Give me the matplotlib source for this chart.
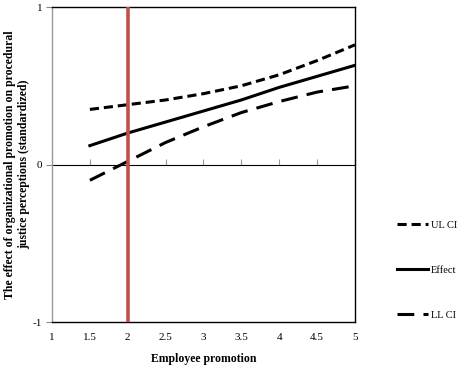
import matplotlib.pyplot as plt

promotion = [1.5, 2.0, 2.5, 3.0, 3.5, 4.0, 4.5, 5.0]
effect = [0.12, 0.20, 0.27, 0.34, 0.41, 0.49, 0.56, 0.63]
ul_ci = [0.35, 0.38, 0.41, 0.45, 0.50, 0.57, 0.66, 0.76]
ll_ci = [-0.10, 0.02, 0.14, 0.24, 0.33, 0.40, 0.46, 0.50]
xticks = [1, 1.5, 2, 2.5, 3, 3.5, 4, 4.5, 5]
xticklabels = ["1", "1.5", "2", "2.5", "3", "3.5", "4", "4.5", "5"]
yticks = [-1, 0, 1]
marker_x = 2.0

plt.rcParams["font.family"] = ["Liberation Serif", "DejaVu Serif"]
plt.rcParams["axes.unicode_minus"] = False

fig = plt.figure(figsize=(4.59, 3.71), dpi=100)
ax = fig.add_axes([0.1133, 0.132, 0.66, 0.849])

l_ul, = ax.plot(promotion, ul_ci, color="black", lw=2.2, dashes=(3.0, 1.6), label="UL CI")
l_eff, = ax.plot(promotion, effect, color="black", lw=2.2, label="Effect")
l_ll, = ax.plot(promotion, ll_ci, color="black", lw=2.2, dashes=(5.5, 3.0), label="LL CI")
ax.axvline(marker_x, color="#C0504D", lw=2.6, zorder=5)

ax.set_xlim(1, 5)
ax.set_ylim(-1, 1)
ax.set_xticks(xticks)
ax.set_xticklabels(xticklabels)
ax.set_yticks(yticks)
ax.tick_params(axis="x", length=0, pad=8, labelsize=8)
ax.tick_params(axis="y", length=4, color="#888888", labelsize=8, pad=3)

for side in ("top", "right", "bottom"):
    ax.spines[side].set_color("black")
    ax.spines[side].set_linewidth(1.0)
ax.spines["left"].set_color("#999999")
ax.spines["left"].set_linewidth(1.0)

# horizontal axis crossing at zero, with tick marks below it
zero_axis = ax.secondary_xaxis(0.5)
zero_axis.set_xticks(xticks)
zero_axis.set_xticklabels([])
zero_axis.tick_params(length=4, color="#999999", direction="out")
zero_axis.spines["bottom"].set_color("#999999")
zero_axis.spines["bottom"].set_linewidth(1.0)

ax.set_xlabel("Employee promotion", fontweight="bold", fontsize=8.5, labelpad=8)
ax.set_ylabel("The effect of organizational promotion on procedural\njustice perceptions (standardized)",
              fontweight="bold", fontsize=8.5, linespacing=1.25)
ax.yaxis.set_label_coords(-0.072, 0.5)

fig.legend(handles=[l_ul, l_eff, l_ll], loc="upper left", bbox_to_anchor=(0.845, 0.43),
           frameon=False, fontsize=7.5, handlelength=3.0, handletextpad=0.2, labelspacing=3.4)

fig.savefig("out.png", dpi=100)
